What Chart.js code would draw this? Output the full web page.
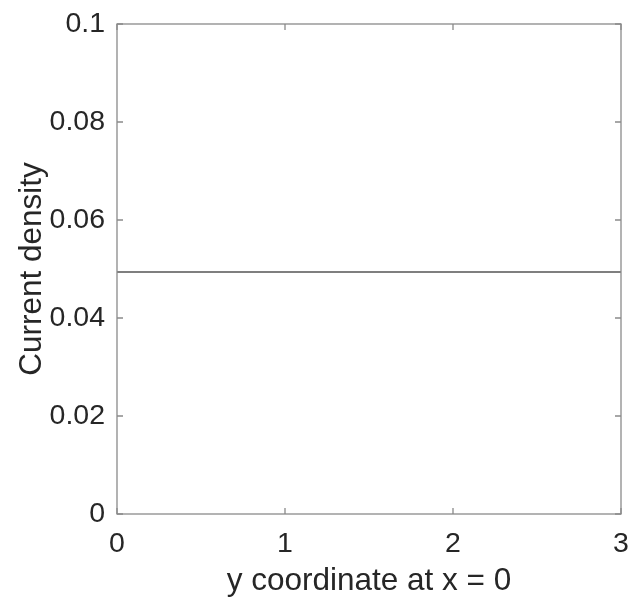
<!DOCTYPE html>
<html>
<head>
<meta charset="utf-8">
<script src="https://cdn.jsdelivr.net/npm/chart.js@4"></script>
<style>
  body { margin: 0; background: #fff; }
  #wrap { width: 636px; height: 611px; }
</style>
</head>
<body>
<div id="wrap"><canvas id="graficoDensidad"></canvas></div>
<script>
// datos
const coordY = [0, 0.5, 1, 1.5, 2, 2.5, 3];
const densidad = [0.0494, 0.0494, 0.0494, 0.0494, 0.0494, 0.0494, 0.0494];
const ticksX = [0, 1, 2, 3];
const ticksY = [0, 0.02, 0.04, 0.06, 0.08, 0.1];

const puntos = coordY.map((x, i) => ({x: x, y: densidad[i]}));

// caja y marcas hacia adentro, estilo matlab
const cajaMatlab = {
    id: 'cajaMatlab',
    afterDraw(chart) {
        const {ctx, chartArea: a, scales} = chart;
        ctx.save();
        ctx.strokeStyle = '#8a8a8a';
        ctx.lineWidth = 1.3;
        ctx.strokeRect(a.left, a.top, a.right - a.left, a.bottom - a.top);
        const largo = 6;
        ctx.beginPath();
        ticksX.forEach(v => {
            const px = scales.x.getPixelForValue(v);
            ctx.moveTo(px, a.bottom); ctx.lineTo(px, a.bottom - largo);
            ctx.moveTo(px, a.top); ctx.lineTo(px, a.top + largo);
        });
        ticksY.forEach(v => {
            const py = scales.y.getPixelForValue(v);
            ctx.moveTo(a.left, py); ctx.lineTo(a.left + largo, py);
            ctx.moveTo(a.right, py); ctx.lineTo(a.right - largo, py);
        });
        ctx.stroke();
        ctx.restore();
    }
};

const fuente = "'Liberation Sans', Arial, Helvetica, sans-serif";

new Chart(document.querySelector('#graficoDensidad'), {
    type: 'scatter',
    data: {
        datasets: [{
            data: puntos,
            showLine: true,
            borderColor: '#555555',
            borderWidth: 1.5,
            pointRadius: 0,
            tension: 0
        }]
    },
    options: {
        responsive: true,
        maintainAspectRatio: false,
        animation: false,
        layout: { padding: { top: 24, right: 15, left: 0, bottom: 0 } },
        plugins: { legend: { display: false }, tooltip: { enabled: false } },
        scales: {
            x: {
                type: 'linear',
                min: 0, max: 3,
                afterFit: s => { s.height = 97; s.paddingLeft = 0; s.paddingRight = 0; },
                afterBuildTicks: s => { s.ticks = ticksX.map(v => ({value: v})); },
                grid: { display: false, drawTicks: false },
                border: { display: false },
                ticks: {
                    padding: 13,
                    color: '#262626',
                    font: { family: fuente, size: 28.5 },
                    maxRotation: 0,
                    callback: v => String(v)
                },
                title: {
                    display: true,
                    text: 'y coordinate at x = 0',
                    color: '#262626',
                    font: { family: fuente, size: 31.5 },
                    padding: { top: 0, bottom: 11 }
                }
            },
            y: {
                type: 'linear',
                min: 0, max: 0.1,
                afterFit: s => { s.width = 117; s.paddingTop = 0; s.paddingBottom = 0; },
                afterBuildTicks: s => { s.ticks = ticksY.map(v => ({value: v})); },
                grid: { display: false, drawTicks: false },
                border: { display: false },
                ticks: {
                    padding: 12,
                    color: '#262626',
                    font: { family: fuente, size: 28.5 },
                    callback: v => String(parseFloat(v.toFixed(2)))
                },
                title: {
                    display: true,
                    text: 'Current density',
                    color: '#262626',
                    font: { family: fuente, size: 31.5 },
                    padding: { top: 13, bottom: 0 }
                }
            }
        }
    },
    plugins: [cajaMatlab]
});
</script>
</body>
</html>
